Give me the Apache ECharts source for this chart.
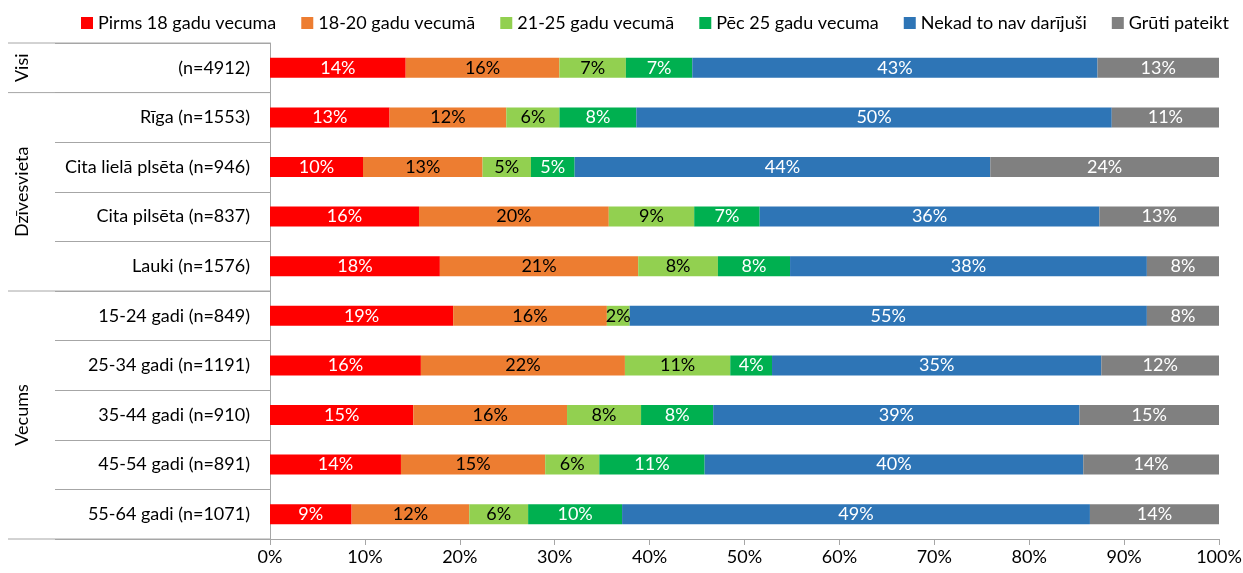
<!DOCTYPE html>
<html>
<head>
<meta charset="utf-8">
<script src="https://cdn.jsdelivr.net/npm/echarts@6/dist/echarts.min.js"></script>
<style>
  html, body { margin: 0; padding: 0; background: #fff; }
  #chart { width: 1243px; height: 573px; }
</style>
</head>
<body>
<div id="chart"></div>
<script>
var categories = ['(n=4912)', 'Rīga (n=1553)', 'Cita lielā plsēta (n=946)', 'Cita pilsēta (n=837)', 'Lauki (n=1576)',
    '15-24 gadi (n=849)', '25-34 gadi (n=1191)', '35-44 gadi (n=910)', '45-54 gadi (n=891)', '55-64 gadi (n=1071)'];
var seriesNames = ['Pirms 18 gadu vecuma', '18-20 gadu vecumā', '21-25 gadu vecumā', 'Pēc 25 gadu vecuma', 'Nekad to nav darījuši', 'Grūti pateikt'];
var pirms18 = [14.3, 12.6, 9.8, 15.7, 17.9, 19.3, 15.9, 15.1, 13.8, 8.6];
var g1820 = [16.2, 12.3, 12.6, 20.0, 20.9, 16.2, 21.5, 16.2, 15.2, 12.4];
var g2125 = [7.0, 5.6, 5.1, 9.0, 8.4, 2.4, 11.1, 7.8, 5.7, 6.2];
var pec25 = [7.0, 8.1, 4.6, 6.9, 7.6, 0, 4.4, 7.6, 11.1, 9.9];
var nekad = [42.7, 50.1, 43.8, 35.8, 37.6, 54.5, 34.7, 38.6, 39.9, 49.3];
var gruti = [12.8, 11.3, 24.1, 12.6, 7.6, 7.6, 12.4, 14.7, 14.3, 13.6];
var groupNames = ['Visi', 'Dzīvesvieta', 'Vecums'];
var groupSizes = [1, 4, 5];

var colors = ['#ff0000', '#ed7d31', '#92d050', '#00b050', '#2e75b6', '#808080'];
var labelColors = ['#fff', '#000', '#000', '#fff', '#fff', '#fff'];
var allData = [pirms18, g1820, g2125, pec25, nekad, gruti];
var font = 'Lato, "Noto Sans", sans-serif';
var fs = 18;
var lineColor = '#a6a6a6';

var myChart = echarts.init(document.getElementById('chart'));

var series = allData.map(function (d, i) {
    return {
        name: seriesNames[i],
        type: 'bar',
        stack: 'all',
        barWidth: 20,
        data: d,
        itemStyle: { color: colors[i] },
        label: {
            show: true,
            position: 'inside',
            color: labelColors[i],
            fontFamily: font,
            fontSize: fs,
            formatter: function (p) {
                return p.value > 0 ? Math.round(p.value) + '%' : '';
            }
        },
        emphasis: { disabled: true }
    };
});

var option = {
    animation: false,
    color: colors,
    legend: {
        top: 9,
        left: 76,
        itemWidth: 12,
        itemHeight: 12,
        itemGap: 25,
        icon: 'rect',
        textStyle: { fontFamily: font, fontSize: fs, color: '#000' },
        data: seriesNames
    },
    grid: { left: 270, right: 24, top: 43, bottom: 34, outerBoundsMode: 'none' },
    xAxis: {
        type: 'value',
        min: 0,
        max: 100,
        interval: 10,
        axisLine: { show: true, lineStyle: { color: lineColor } },
        axisTick: { show: true, length: 6, lineStyle: { color: lineColor } },
        splitLine: { show: false },
        axisLabel: { formatter: '{value}%', fontFamily: font, fontSize: fs, color: '#000', margin: 9 }
    },
    yAxis: {
        type: 'category',
        inverse: true,
        data: categories,
        axisLine: { show: true, lineStyle: { color: lineColor } },
        axisTick: { show: true, length: 215, lineStyle: { color: lineColor } },
        axisLabel: { fontFamily: font, fontSize: fs, color: '#000', margin: 20 }
    },
    series: series
};
myChart.setOption(option);

// group separators and rotated group names
var c0 = myChart.convertToPixel({ yAxisIndex: 0 }, 0);
var c1 = myChart.convertToPixel({ yAxisIndex: 0 }, 1);
var step = c1 - c0;
var axisX = myChart.convertToPixel({ xAxisIndex: 0 }, 0);
var graphics = [];
var start = 0;
groupSizes.forEach(function (n, g) {
    var top = c0 + (start - 0.5) * step;
    var bottom = c0 + (start + n - 0.5) * step;
    graphics.push({
        type: 'line',
        shape: { x1: 8, y1: top, x2: axisX, y2: top },
        style: { stroke: lineColor, lineWidth: 1 }
    });
    if (g === groupSizes.length - 1) {
        graphics.push({
            type: 'line',
            shape: { x1: 8, y1: bottom, x2: axisX, y2: bottom },
            style: { stroke: lineColor, lineWidth: 1 }
        });
    }
    graphics.push({
        type: 'text',
        x: 22,
        y: (top + bottom) / 2,
        rotation: Math.PI / 2,
        style: {
            text: groupNames[g],
            fontFamily: font,
            fontSize: fs,
            fill: '#000',
            align: 'center',
            verticalAlign: 'middle'
        }
    });
    start += n;
});
myChart.setOption({ graphic: graphics });

window.addEventListener('resize', function () {
    myChart.resize();
});
</script>
</body>
</html>
